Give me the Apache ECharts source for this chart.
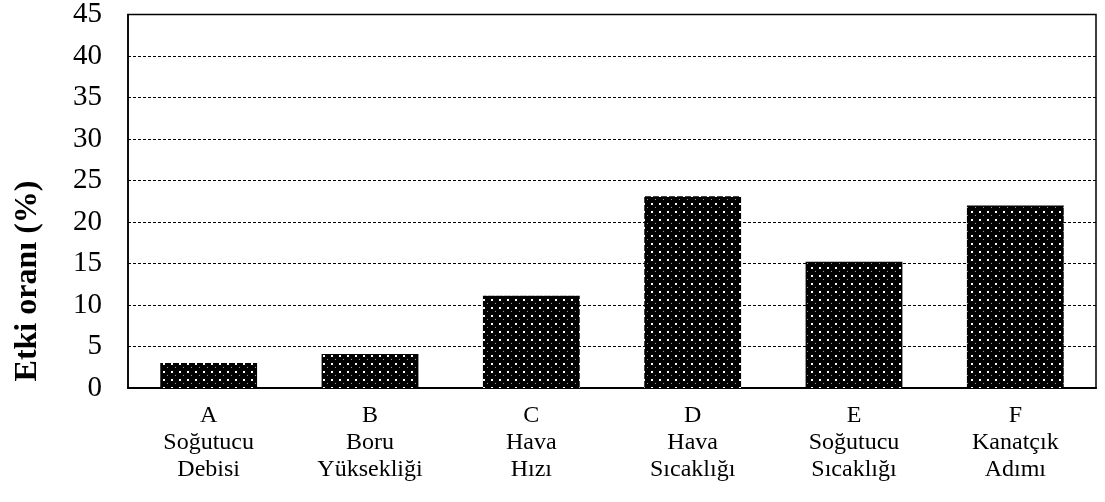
<!DOCTYPE html>
<html>
<head>
<meta charset="utf-8">
<script src="https://cdn.jsdelivr.net/npm/echarts@6/dist/echarts.min.js"></script>
<style>
  html, body { margin: 0; padding: 0; background: #fff; }
  #chart { width: 1105px; height: 502px; }
</style>
</head>
<body>
<div id="chart"></div>
<script>
// Factor codes and names shown under each bar
const codes = ['A', 'B', 'C', 'D', 'E', 'F'];
const names = [
  ['Soğutucu', 'Debisi'],
  ['Boru', 'Yüksekliği'],
  ['Hava', 'Hızı'],
  ['Hava', 'Sıcaklığı'],
  ['Soğutucu', 'Sıcaklığı'],
  ['Kanatçık', 'Adımı']
];
// Effect ratio of each factor (%)
const effect = [3.0, 4.1, 11.1, 23.1, 15.2, 22.0];
const yTicks = [0, 5, 10, 15, 20, 25, 30, 35, 40, 45];
const yTitle = 'Etki oranı (%)';

const categories = codes.map((c, i) => [c].concat(names[i]).join('\n'));

// Black fill with a small white dot grid
function dotPattern() {
  const c = document.createElement('canvas');
  c.width = 8; c.height = 8;
  const g = c.getContext('2d');
  g.fillStyle = '#000';
  g.fillRect(0, 0, 8, 8);
  g.fillStyle = '#fff';
  g.fillRect(3, 3, 2, 2);
  g.fillStyle = '#9a9a9a';
  g.fillRect(7, 7, 1, 1);
  return c;
}

const serif = '"Liberation Serif", "Times New Roman", serif';
const chart = echarts.init(document.getElementById('chart'), null, { renderer: 'canvas' });

chart.setOption({
  animation: false,
  backgroundColor: '#fff',
  grid: { left: 128, right: 9, top: 14, bottom: 114, show: true, borderColor: '#000', borderWidth: 1.5, backgroundColor: 'transparent' },
  graphic: [{
    type: 'text',
    x: 28,
    y: 281,
    rotation: Math.PI / 2,
    style: {
      text: yTitle,
      fill: '#000',
      font: 'bold 32px ' + serif,
      align: 'center',
      verticalAlign: 'middle'
    }
  }],
  xAxis: {
    type: 'category',
    data: categories,
    axisLine: { lineStyle: { color: '#000', width: 2 } },
    axisTick: { show: false },
    axisLabel: {
      color: '#000', fontFamily: serif, fontSize: 24, lineHeight: 27, margin: 14, interval: 0
    }
  },
  yAxis: {
    type: 'value',
    min: yTicks[0],
    max: yTicks[yTicks.length - 1],
    interval: 5,
    axisLine: { show: true, lineStyle: { color: '#000', width: 1.5 } },
    axisTick: { show: false },
    axisLabel: { color: '#000', fontFamily: serif, fontSize: 29, margin: 26 },
    splitLine: { show: true, lineStyle: { color: '#000', type: [3, 2], width: 1 } }
  },
  series: [{
    type: 'bar',
    data: effect,
    barWidth: '60%',
    itemStyle: { color: { image: dotPattern(), repeat: 'repeat' } },
    z: 3
  }]
});
</script>
</body>
</html>
